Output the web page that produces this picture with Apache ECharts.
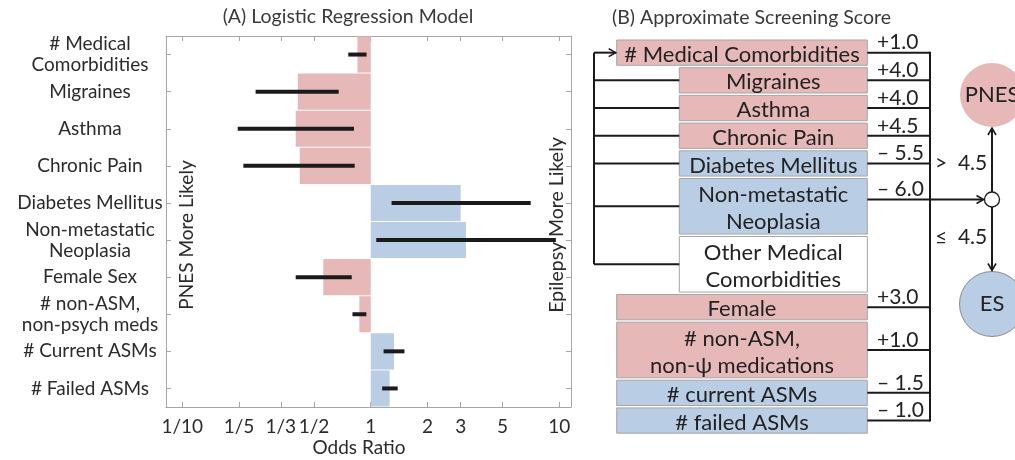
<!DOCTYPE html>
<html><head><meta charset="utf-8">
<script src="https://cdn.jsdelivr.net/npm/echarts@6/dist/echarts.min.js"></script>
<style>html,body{margin:0;padding:0;background:#fff}#c{width:1015px;height:460px}</style>
</head><body><div id="c"></div>
<script>
// ---------- Panel A data ----------
const categories = ['# Medical\nComorbidities','Migraines','Asthma','Chronic Pain','Diabetes Mellitus','Non-metastatic\nNeoplasia','Female Sex','# non-ASM,\nnon-psych meds','# Current ASMs','# Failed ASMs'];
const oddsRatio = [0.85, 0.41, 0.40, 0.42, 3.0, 3.2, 0.56, 0.87, 1.33, 1.26];
const ciLow     = [0.76, 0.245, 0.197, 0.211, 1.29, 1.07, 0.40, 0.80, 1.17, 1.15];
const ciHigh    = [0.95, 0.676, 0.815, 0.822, 7.06, 9.6, 0.793, 0.948, 1.51, 1.39];
const tickValues = [0.1, 0.2, 1/3, 0.5, 1, 2, 3, 5, 10];
const tickLabels = ['1/10','1/5','1/3','1/2','1','2','3','5','10'];

// ---------- Panel B data ----------
const scoreItems = ['# Medical Comorbidities','Migraines','Asthma','Chronic Pain','Diabetes Mellitus','Non-metastatic\nNeoplasia','Other Medical\nComorbidities','Female','# non-ASM,\nnon-\u03c8 medications','# current ASMs','# failed ASMs'];
const scoreValues = [1.0, 4.0, 4.0, 4.5, -5.5, -6.0, null, 3.0, 1.0, -1.5, -1.0];
const isComorbidityType = [false, true, true, true, true, true, true, false, false, false, false];
const threshold = 4.5;
const outcomes = ['PNES', 'ES'];

// ---------- styles ----------
const PINK = '#e6b9b8', BLUE = '#b9cde5', INK = '#1a1a1a', TXT = '#2b2b2b', AX = '#a6a6a6';
const FONT = 'Lato, "Open Sans", sans-serif';

const chart = echarts.init(document.getElementById('c'), null, {renderer: 'canvas'});

function fmtScore(v){ return v > 0 ? '+' + v.toFixed(1) : '\u2013 ' + Math.abs(v).toFixed(1); }
function tickLabel(v){
  let best = 0, bd = Infinity;
  tickValues.forEach((t, i) => { const d = Math.abs(Math.log(t) - Math.log(v)); if (d < bd){ bd = d; best = i; } });
  return tickLabels[best];
}

// Panel B layout (diagram units, 1 unit = 1px of hidden grid)
const lineCount = scoreItems.map(s => s.split('\n').length);
const H1 = 25.3, H2 = 55.6, GAP = 2.4, TOP0 = 4;
const boxH = lineCount.map(n => n === 1 ? H1 : H2);
const boxTop = []; (function(){ let y = TOP0; boxH.forEach(h => { boxTop.push(y); y += h + GAP; }); })();
const boxMid = boxTop.map((t, i) => t + boxH[i] / 2);
const XL = 26.7, XLI = 89.3, XR = 277.3, XBAR = 340, XLOOP = 4, XDEC = 402;
const decIdx = 5;
const decY = boxTop[decIdx] + 21;
const rightY = boxMid.map((m, i) => i === decIdx ? decY : m);

function arrowHead(tip, dir){ // dir: 'right','up','down'
  const L = 7, W = 4; let pts;
  if (dir === 'right') pts = [[tip[0]-L, tip[1]-W], tip, [tip[0]-L, tip[1]+W]];
  else if (dir === 'up') pts = [[tip[0]-W, tip[1]+L], tip, [tip[0]+W, tip[1]+L]];
  else pts = [[tip[0]-W, tip[1]-L], tip, [tip[0]+W, tip[1]-L]];
  return {type: 'polyline', shape: {points: pts}, style: {stroke: INK, lineWidth: 1.6, fill: null}};
}
function seg(a, b, w){ return {type: 'line', shape: {x1: a[0], y1: a[1], x2: b[0], y2: b[1]}, style: {stroke: INK, lineWidth: w || 2}}; }

const option = {
  animation: false,
  backgroundColor: '#fff',
  textStyle: {fontFamily: FONT},
  grid: [
    {left: 166, top: 36, width: 405, height: 371},
    {left: 590, top: 36, width: 425, height: 400}
  ],
  xAxis: [
    {type: 'log', gridIndex: 0, position: 'bottom', min: 0.082, max: 11.55, logBase: 10,
     axisLine: {show: true, lineStyle: {color: AX}}, splitLine: {show: false},
     axisTick: {show: true, inside: true, length: 5, lineStyle: {color: AX}, customValues: tickValues},
     axisLabel: {show: true, margin: 10, fontSize: 19, color: TXT, fontFamily: FONT, customValues: tickValues, formatter: v => tickLabel(v)}},
    {type: 'log', gridIndex: 0, position: 'top', min: 0.082, max: 11.55, logBase: 10,
     axisLine: {show: true, lineStyle: {color: AX}}, splitLine: {show: false},
     axisTick: {show: true, inside: true, length: 5, lineStyle: {color: AX}, customValues: tickValues},
     axisLabel: {show: false}},
    {type: 'value', gridIndex: 1, min: 0, max: 425, show: false}
  ],
  yAxis: [
    {type: 'category', gridIndex: 0, inverse: true, data: categories, position: 'left',
     axisLine: {show: true, lineStyle: {color: AX}},
     axisTick: {show: true, inside: true, length: 5, alignWithLabel: true, lineStyle: {color: AX}},
     axisLabel: {show: true, align: 'center', margin: 76, fontSize: 19, lineHeight: 21, color: TXT, fontFamily: FONT, interval: 0}},
    {type: 'category', gridIndex: 0, inverse: true, data: categories, position: 'right',
     axisLine: {show: true, lineStyle: {color: AX}},
     axisTick: {show: true, inside: true, length: 5, alignWithLabel: true, lineStyle: {color: AX}},
     axisLabel: {show: false}},
    {type: 'value', gridIndex: 1, min: 0, max: 400, inverse: true, show: false}
  ],
  series: [
    { // odds-ratio bars from 1
      type: 'custom', xAxisIndex: 0, yAxisIndex: 0, z: 2,
      data: oddsRatio.map((v, i) => [v, i]),
      encode: {x: 0, y: 1},
      renderItem(params, api){
        const v = api.value(0), i = api.value(1);
        const p0 = api.coord([1, i]), p1 = api.coord([v, i]);
        const h = api.size([0, 1], [1, i])[1];
        return {type: 'rect', shape: {x: Math.min(p0[0], p1[0]), y: p0[1] - h/2 + 0.5, width: Math.abs(p1[0]-p0[0]), height: h - 1},
                style: {fill: v < 1 ? PINK : BLUE}};
      }
    },
    { // confidence intervals
      type: 'custom', xAxisIndex: 0, yAxisIndex: 0, z: 3,
      data: ciLow.map((lo, i) => [lo, ciHigh[i], i]),
      encode: {x: [0, 1], y: 2},
      renderItem(params, api){
        const i = api.value(2);
        const a = api.coord([api.value(0), i]), b = api.coord([api.value(1), i]);
        return {type: 'line', shape: {x1: a[0], y1: a[1], x2: b[0], y2: b[1]}, style: {stroke: INK, lineWidth: 4}};
      }
    },
    { // screening score boxes
      type: 'custom', xAxisIndex: 2, yAxisIndex: 2, z: 3,
      data: scoreItems.map((s, i) => [i]),
      encode: {x: 0},
      renderItem(params, api){
        const i = params.dataIndex;
        const c = (x, y) => api.coord([x, y]);
        const v = scoreValues[i];
        const left = isComorbidityType[i] ? XLI : XL;
        const tl = c(left, boxTop[i]), br = c(XR, boxTop[i] + boxH[i]);
        const fill = v == null ? '#ffffff' : (v > 0 ? PINK : BLUE);
        const ch = [
          {type: 'rect', shape: {x: tl[0], y: tl[1], width: br[0]-tl[0], height: br[1]-tl[1]}, style: {fill: fill, stroke: AX, lineWidth: 1}},
          {type: 'text', style: {text: scoreItems[i], x: (tl[0]+br[0])/2, y: (tl[1]+br[1])/2 + 2, align: 'center', verticalAlign: 'middle',
            font: '22px ' + FONT, lineHeight: 27, fill: '#222'}}
        ];
        if (v != null){
          const ly = rightY[i];
          ch.push(seg(c(XR, ly), c(XBAR, ly)));
          const tp = c(287, ly - 10);
          ch.push({type: 'text', style: {text: fmtScore(v), x: tp[0], y: tp[1], align: 'left', verticalAlign: 'middle', font: '21px ' + FONT, fill: '#222'}});
        }
        if (isComorbidityType[i]) ch.push(seg(c(XLOOP, boxMid[i]), c(XLI, boxMid[i])));
        return {type: 'group', children: ch};
      }
    },
    { // connectors, decision node, outcomes
      type: 'custom', xAxisIndex: 2, yAxisIndex: 2, z: 4,
      data: [[threshold]],
      encode: {x: 0},
      renderItem(params, api){
        const c = (x, y) => api.coord([x, y]);
        const lastSub = isComorbidityType.lastIndexOf(true);
        const last = scoreItems.length - 1;
        const ch = [];
        // left loop
        ch.push(seg(c(XLOOP, boxMid[0]), c(XLOOP, boxMid[lastSub])));
        ch.push(seg(c(XLOOP, boxMid[0]), c(XL - 1, boxMid[0])));
        ch.push(arrowHead(c(XL - 1, boxMid[0]), 'right'));
        // right summation bar
        ch.push(seg(c(XBAR, boxMid[0] - 1), c(XBAR, boxMid[last] + 1)));
        // to decision node
        const r = 7.5;
        const dc = c(XDEC, decY);
        ch.push(seg(c(XBAR, decY), c(XDEC - r - 1, decY)));
        ch.push(arrowHead(c(XDEC - r - 1, decY), 'right'));
        // outcome circles
        const pc = c(XDEC, 59), ec = c(XDEC, 268);
        ch.push({type: 'circle', shape: {cx: pc[0], cy: pc[1], r: 32}, style: {fill: PINK}});
        ch.push({type: 'text', style: {text: outcomes[0], x: pc[0], y: pc[1], align: 'center', verticalAlign: 'middle', font: '22px ' + FONT, fill: '#222'}});
        ch.push({type: 'circle', shape: {cx: ec[0], cy: ec[1], r: 32.5}, style: {fill: BLUE, stroke: '#8c8c8c', lineWidth: 1}});
        ch.push({type: 'text', style: {text: outcomes[1], x: ec[0], y: ec[1], align: 'center', verticalAlign: 'middle', font: '22px ' + FONT, fill: '#222'}});
        // arrows to outcomes
        ch.push(seg([dc[0], dc[1] - r], [pc[0], pc[1] + 33]));
        ch.push(arrowHead([pc[0], pc[1] + 33], 'up'));
        ch.push(seg([dc[0], dc[1] + r], [ec[0], ec[1] - 33.5]));
        ch.push(arrowHead([ec[0], ec[1] - 33.5], 'down'));
        ch.push({type: 'circle', shape: {cx: dc[0], cy: dc[1], r: r}, style: {fill: '#fff', stroke: INK, lineWidth: 1.3}});
        // threshold labels
        const t1 = c(345, decY - 36), t2 = c(345, decY + 37.4);
        ch.push({type: 'text', style: {text: '>  ' + threshold.toFixed(1), x: t1[0], y: t1[1], align: 'left', verticalAlign: 'middle', font: '21px ' + FONT, fill: '#222'}});
        ch.push({type: 'text', style: {text: '\u2264  ' + threshold.toFixed(1), x: t2[0], y: t2[1], align: 'left', verticalAlign: 'middle', font: '21px ' + FONT, fill: '#222'}});
        return {type: 'group', children: ch};
      }
    }
  ],
  graphic: [
    {type: 'text', x: 348, y: 17, style: {text: '(A) Logistic Regression Model', align: 'center', verticalAlign: 'middle', font: '19.5px ' + FONT, fill: '#3a3a3a'}},
    {type: 'text', x: 612, y: 18, style: {text: '(B) Approximate Screening Score', align: 'left', verticalAlign: 'middle', font: '19.5px ' + FONT, fill: '#3a3a3a'}},
    {type: 'text', x: 359, y: 448, style: {text: 'Odds Ratio', align: 'center', verticalAlign: 'middle', font: '19px ' + FONT, fill: TXT}},
    {type: 'text', x: 187, y: 235, rotation: Math.PI/2, style: {text: 'PNES More Likely', align: 'center', verticalAlign: 'middle', font: '19px ' + FONT, fill: TXT}},
    {type: 'text', x: 557, y: 225, rotation: Math.PI/2, style: {text: 'Epilepsy More Likely', align: 'center', verticalAlign: 'middle', font: '19.5px ' + FONT, fill: TXT}}
  ]
};
chart.setOption(option);
</script></body></html>
